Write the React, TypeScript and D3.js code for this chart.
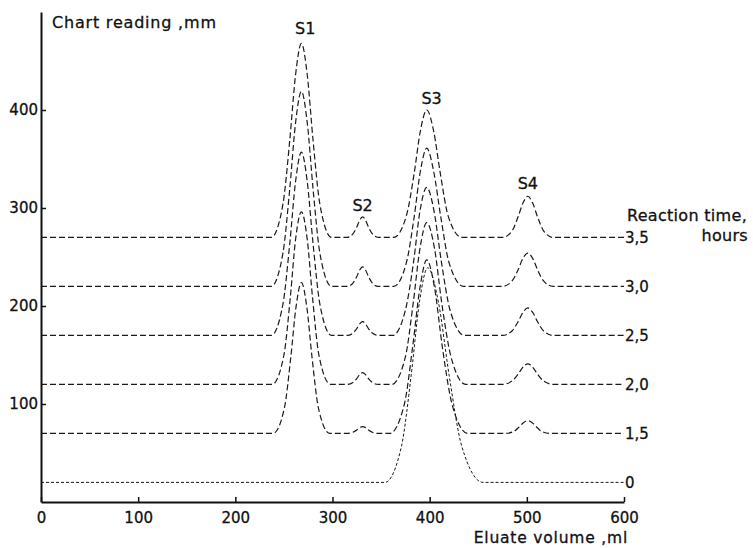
import React, { useEffect, useRef } from 'react';
import * as d3 from 'd3';

// chart size and plot box (pixels)
const width = 753;
const height = 548;
const margin = { left: 41, right: 130, top: 12, bottom: 46 };

// eluate volume (ml) / chart reading (mm) points
const curve35: [number, number][] = [
	[0, 270], [237, 270], [249, 304], [256, 369], [262, 436], [268, 468], [274, 436], [280, 369], [287, 304], [299, 270],
	[315, 270], [321, 273.6], [325, 280.5], [328, 287.6], [331, 291], [334, 287.6], [337, 280.5], [341, 273.6], [347, 270],
	[363, 270], [376, 292], [384, 335], [390.5, 379], [397, 400], [404, 379], [411, 335], [419, 292], [433, 270],
	[475, 270], [485, 277], [491, 291], [496, 305], [501, 312], [506, 305], [511, 291], [517, 277], [527, 270],
	[600, 270]
];
const curve30: [number, number][] = [
	[0, 220], [237, 220], [249, 254], [256, 319.5], [262, 387], [268, 419], [274, 387], [280, 319.5], [287, 254], [299, 220],
	[315, 220], [321, 223.4], [325, 230], [328, 236.8], [331, 240], [334, 236.8], [337, 230], [341, 223.4], [347, 220],
	[363, 220], [376, 244], [384, 290.5], [390.5, 338], [397, 361], [404, 338], [411.5, 290.5], [420, 244], [435, 220],
	[475, 220], [485, 225.8], [491, 237], [496, 248.6], [501, 254], [506, 248.6], [511, 237], [517, 225.8], [527, 220],
	[600, 220]
];
const curve25: [number, number][] = [
	[0, 170], [237, 170], [249, 202], [256, 263.5], [262, 327], [268, 357], [274, 327], [280, 263.5], [287, 202], [299, 170],
	[315, 170], [321, 172.4], [325, 177], [328, 181.8], [331, 184], [334, 181.8], [337, 177], [341, 172.4], [347, 170],
	[362, 170], [375, 195.7], [383.5, 245.5], [390, 296.8], [397, 321], [404.5, 296.8], [412, 245.5], [421, 195.7], [436, 170],
	[475, 170], [485, 174.8], [491, 184], [496, 193.5], [501, 198], [506, 193.5], [511, 184], [517, 174.8], [527, 170],
	[600, 170]
];
const curve20: [number, number][] = [
	[0, 120], [238, 120], [250, 150], [256.5, 208], [262, 268], [268, 296], [274, 268], [279.5, 208], [286, 150], [298, 120],
	[315, 120], [321, 122], [325, 126], [328, 130], [331, 132], [334, 130], [337, 126], [341, 122], [347, 120],
	[361, 120], [375, 148], [383, 202.5], [390, 258.6], [397, 285], [405, 258.6], [412.5, 202.5], [422, 148], [437, 120],
	[475, 120], [485, 123.6], [491, 130.5], [496, 137.6], [501, 141], [506, 137.6], [511, 130.5], [517, 123.6], [527, 120],
	[600, 120]
];
const curve15: [number, number][] = [
	[0, 70], [239, 70], [250.5, 96], [257, 147], [262.5, 199.4], [268, 224], [273.5, 199.4], [279, 147], [285.5, 96], [297, 70],
	[315, 70], [321, 71.2], [325, 73.5], [328, 75.9], [331, 77], [334, 75.9], [337, 73.5], [341, 71.2], [347, 70],
	[359, 70], [374, 100], [382.5, 158.5], [390, 218.7], [397, 247], [405, 218.7], [413, 158.5], [423, 100], [439, 70],
	[478, 70], [487, 72.2], [492, 76.5], [496.5, 80.9], [501, 83], [505.5, 80.9], [510, 76.5], [515, 72.2], [524, 70],
	[600, 70]
];
const curve00: [number, number][] = [
	[0, 20], [354, 20], [371, 57], [381, 129.5], [389.5, 204], [398, 239], [409, 204], [420, 129.5], [433, 57], [455, 20],
	[600, 20]
];

// reaction time labels, one per trace
const reactionTimes = ['0', '1,5', '2,0', '2,5', '3,0', '3,5'];
const curves = [curve00, curve15, curve20, curve25, curve30, curve35];

// peak names and where they are written (ml, mm)
const peakNames = ['S1', 'S2', 'S3', 'S4'];
const peakLabelAt: [number, number][] = [[272, 483], [331, 303], [402, 412], [501, 325]];

const xTicks = [0, 100, 200, 300, 400, 500, 600];
const yTicks = [100, 200, 300, 400];

const font = "'DejaVu Sans', sans-serif";
const ink = '#111';

const x = d3.scaleLinear().domain([0, 600]).range([margin.left, width - margin.right + 1]);
const y = d3.scaleLinear().domain([0, 500]).range([height - margin.bottom, margin.top]);

const line = d3
	.line<[number, number]>()
	.x(d => x(d[0]))
	.y(d => y(d[1]))
	.curve(d3.curveMonotoneX);

// text looks a bit heavier in the scan, so give it a hairline stroke
const textStyle = { fill: ink, stroke: ink, strokeWidth: 0.3 };

export default function App() {
	const xAxisRef = useRef<SVGGElement>(null);
	const yAxisRef = useRef<SVGGElement>(null);

	useEffect(() => {
		const xAxis = d3.axisBottom(x).tickValues(xTicks).tickSize(-5).tickSizeOuter(0).tickPadding(10);
		const gx = d3.select(xAxisRef.current!).call(xAxis);
		gx.select('.domain').attr('stroke', ink).attr('stroke-width', 2);
		gx.selectAll('.tick line').attr('stroke', ink).attr('stroke-width', 1.5);
		gx.selectAll('.tick text')
			.attr('font-size', 15)
			.attr('font-family', font)
			.attr('fill', ink)
			.attr('stroke', ink)
			.attr('stroke-width', 0.3);

		const yAxis = d3.axisLeft(y).tickValues(yTicks).tickSize(-5).tickSizeOuter(0).tickPadding(3);
		const gy = d3.select(yAxisRef.current!).call(yAxis);
		gy.select('.domain').attr('stroke', ink).attr('stroke-width', 2);
		gy.selectAll('.tick line').attr('stroke', ink).attr('stroke-width', 1.5);
		gy.selectAll('.tick text')
			.attr('font-size', 15)
			.attr('font-family', font)
			.attr('fill', ink)
			.attr('stroke', ink)
			.attr('stroke-width', 0.3);
	}, []);

	return (
		<svg
			width={width}
			height={height}
			style={{ position: 'absolute', left: 0, top: 0, background: '#fff' }}
			fontFamily={font}
		>
			{curves.map((c, i) => (
				<g key={reactionTimes[i]}>
					<path
						d={line(c) ?? ''}
						fill="none"
						stroke="#1a1a1a"
						strokeWidth={i === 0 ? 1 : 1.2}
						strokeDasharray={i === 0 ? '3,2' : '6,3'}
					/>
					<text x={x(600) + 1} y={y(c[0][1])} dy="0.36em" fontSize={15} {...textStyle}>
						{reactionTimes[i]}
					</text>
				</g>
			))}

			{peakNames.map((name, i) => (
				<text
					key={name}
					x={x(peakLabelAt[i][0])}
					y={y(peakLabelAt[i][1])}
					dy="0.36em"
					textAnchor="middle"
					fontSize={16}
					{...textStyle}
				>
					{name}
				</text>
			))}

			<text x={52} y={22} dy="0.36em" fontSize={16} letterSpacing={0.8} {...textStyle}>
				Chart reading ,mm
			</text>
			<text x={627} y={215} dy="0.36em" fontSize={16} letterSpacing={0.3} {...textStyle}>
				Reaction time,
			</text>
			<text x={748} y={235} dy="0.36em" fontSize={16} letterSpacing={0.3} textAnchor="end" {...textStyle}>
				hours
			</text>
			<text x={628} y={537} dy="0.36em" fontSize={15.5} letterSpacing={0.8} textAnchor="end" {...textStyle}>
				Eluate volume ,ml
			</text>

			<g ref={xAxisRef} transform={`translate(0, ${height - margin.bottom})`} />
			<g ref={yAxisRef} transform={`translate(${margin.left}, 0)`} />
		</svg>
	);
}
